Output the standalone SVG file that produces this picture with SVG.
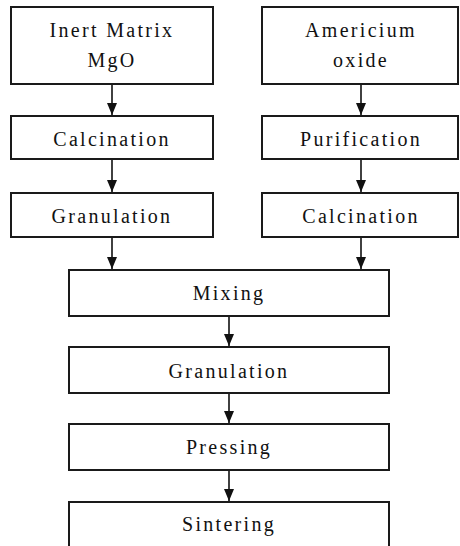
<svg xmlns="http://www.w3.org/2000/svg" width="460" height="546" viewBox="0 0 460 546">
<defs>
<style>
.box{fill:#fff;stroke:#1a1a1a;stroke-width:2}
.t{font-family:'Liberation Serif','Times New Roman',serif;font-size:20px;letter-spacing:2.3px;fill:#111;text-anchor:middle}
.c{stroke:#111;stroke-width:1.6;fill:none;marker-end:url(#ah)}
</style>
<marker id="ah" markerWidth="12" markerHeight="10" refX="12" refY="5" orient="auto" markerUnits="userSpaceOnUse" viewBox="0 0 12 10">
<path d="M0,0 L12,5 L0,10 Z" fill="#111"/>
</marker>
</defs>
<rect width="460" height="546" fill="#fff"/>
<g id="connectors">
<line class="c" x1="112" y1="84" x2="112" y2="115"/>
<line class="c" x1="112" y1="159" x2="112" y2="192"/>
<line class="c" x1="112" y1="237" x2="112" y2="269"/>
<line class="c" x1="361" y1="84" x2="361" y2="115"/>
<line class="c" x1="361" y1="159" x2="361" y2="192"/>
<line class="c" x1="361" y1="237" x2="361" y2="269"/>
<line class="c" x1="229" y1="316" x2="229" y2="346"/>
<line class="c" x1="229" y1="393" x2="229" y2="423"/>
<line class="c" x1="229" y1="470" x2="229" y2="501"/>
</g>
<g id="inert"><rect class="box" x="11" y="7" width="202" height="77"/><text class="t" x="112" y="37">Inert Matrix</text><text class="t" x="112" y="67">MgO</text></g>
<g id="americium"><rect class="box" x="262" y="7" width="196" height="77"/><text class="t" x="361" y="37">Americium</text><text class="t" x="361" y="67">oxide</text></g>
<g id="calcination1"><rect class="box" x="11" y="116" width="202" height="43"/><text class="t" x="112" y="146">Calcination</text></g>
<g id="purification"><rect class="box" x="262" y="116" width="196" height="43"/><text class="t" x="361" y="146">Purification</text></g>
<g id="granulation1"><rect class="box" x="11" y="193" width="202" height="44"/><text class="t" x="112" y="223">Granulation</text></g>
<g id="calcination2"><rect class="box" x="262" y="193" width="196" height="44"/><text class="t" x="361" y="223">Calcination</text></g>
<g id="mixing"><rect class="box" x="69" y="270" width="320" height="46"/><text class="t" x="229" y="300">Mixing</text></g>
<g id="granulation2"><rect class="box" x="69" y="347" width="320" height="46"/><text class="t" x="229" y="378">Granulation</text></g>
<g id="pressing"><rect class="box" x="69" y="424" width="320" height="46"/><text class="t" x="229" y="454">Pressing</text></g>
<g id="sintering"><rect class="box" x="69" y="502" width="320" height="50"/><text class="t" x="229" y="531">Sintering</text></g>
</svg>
